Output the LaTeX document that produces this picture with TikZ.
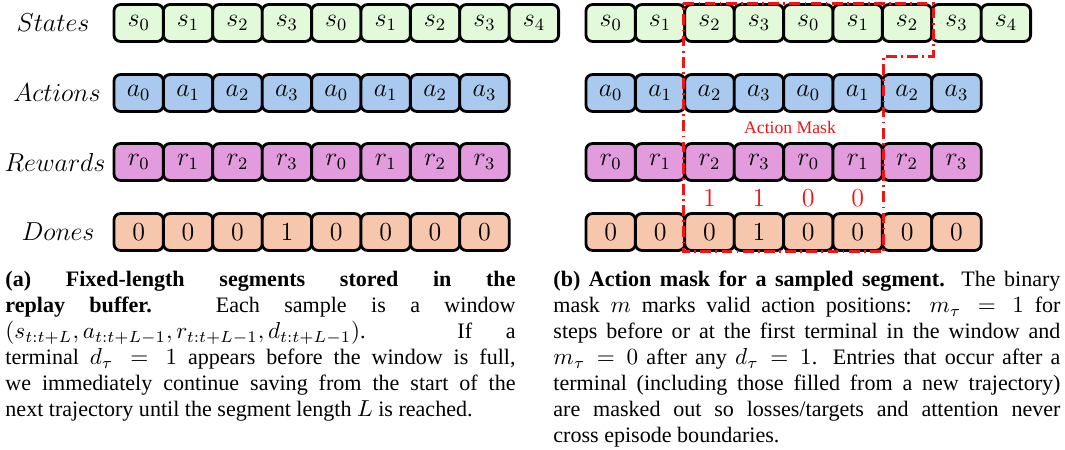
\documentclass[tikz,border=0pt]{standalone}
\usepackage{fix-cm}
\usepackage[no-math]{fontspec}
\setmainfont{Liberation Serif}[Scale=1.02, WordSpace={1,1.2,0.72}]
\DeclareMathSizes{10}{10.7}{7.5}{5.4}
\hyphenpenalty=10000
\tolerance=3000

\definecolor{stategreen}{RGB}{226,250,217}
\definecolor{actionblue}{RGB}{169,201,238}
\definecolor{rewardpink}{RGB}{226,155,220}
\definecolor{donepeach}{RGB}{246,199,172}
\definecolor{maskred}{RGB}{240,20,20}

\tikzset{
  cell/.style={draw, line width=1.3pt, rounded corners=3pt, inner sep=0pt,
    minimum width=0.803cm, minimum height=0.6cm, font=\large},
  rowlabel/.style={font=\large, inner sep=0pt},
  maskline/.style={draw=maskred, line width=1.4pt,
    dash pattern=on 5pt off 2pt on 0.8pt off 2pt},
  caption/.style={anchor=north west, inner sep=0pt, align=justify,
    font=\normalsize},
}

\begin{document}
\begin{tikzpicture}[x=0.01625cm, y=-0.01625cm]
  \useasboundingbox (0,0) rectangle (1065,450);

  % left panel: stored segments
  \node[rowlabel] (lsa) at (53,23) {$States$};
  \node[rowlabel] (laa) at (57,93) {$Actions$};
  \node[rowlabel] (lra) at (55,162) {$Rewards$};
  \node[rowlabel] (lda) at (58,232) {$Dones$};
  \foreach \v [count=\i from 0] in {s_0,s_1,s_2,s_3,s_0,s_1,s_2,s_3,s_4}
    \node[cell, fill=stategreen] (sa\i) at (138.7+49.4*\i,23) {$\v$};
  \foreach \v [count=\i from 0] in {a_0,a_1,a_2,a_3,a_0,a_1,a_2,a_3}
    \node[cell, fill=actionblue] (aa\i) at (138.7+49.4*\i,93) {$\v$};
  \foreach \v [count=\i from 0] in {r_0,r_1,r_2,r_3,r_0,r_1,r_2,r_3}
    \node[cell, fill=rewardpink] (ra\i) at (138.7+49.4*\i,162) {$\v$};
  \foreach \v [count=\i from 0] in {0,0,0,1,0,0,0,0}
    \node[cell, fill=donepeach] (da\i) at (138.7+49.4*\i,232) {$\v$};

  % right panel: sampled window
  \foreach \v [count=\i from 0] in {s_0,s_1,s_2,s_3,s_0,s_1,s_2,s_3,s_4}
    \node[cell, fill=stategreen] (sb\i) at (610.7+49.4*\i,23) {$\v$};
  \foreach \v [count=\i from 0] in {a_0,a_1,a_2,a_3,a_0,a_1,a_2,a_3}
    \node[cell, fill=actionblue] (ab\i) at (610.7+49.4*\i,93) {$\v$};
  \foreach \v [count=\i from 0] in {r_0,r_1,r_2,r_3,r_0,r_1,r_2,r_3}
    \node[cell, fill=rewardpink] (rb\i) at (610.7+49.4*\i,162) {$\v$};
  \foreach \v [count=\i from 0] in {0,0,0,1,0,0,0,0}
    \node[cell, fill=donepeach] (db\i) at (610.7+49.4*\i,232) {$\v$};

  \draw[maskline] (sb2.north west) -- (sb6.north east) -- ++(0,53)
    -| (db5.south east) -- (db2.south west) -- cycle;
  \node[text=maskred, font=\footnotesize] (mlab) at (790,127) {Action Mask};
  \foreach \m [count=\i from 2] in {1,1,0,0}
    \node[text=maskred, font=\large] (m\i) at (db\i.center |- 0,198) {$\m$};

  % captions
  \node[caption, text width=8.29cm] (capa) at (5,271)
    {\textbf{(a) Fixed-length segments stored in the replay buffer.} Each
     sample is a window $(s_{t:t+L}, a_{t:t+L-1}, r_{t:t+L-1}, d_{t:t+L-1})$.
     If a\linebreak terminal $d_\tau = 1$ appears before the window is
     full,\linebreak we immediately continue saving from the start of
     the\linebreak next trajectory until the segment length $L$ is reached.};
  \node[caption, text width=8.24cm] (capb) at (553,271)
    {\textbf{(b) Action mask for a sampled segment.} The binary mask $m$
     marks valid action positions: $m_\tau = 1$ for\linebreak steps before or
     at the first terminal in the window and\linebreak $m_\tau = 0$ after any
     $d_\tau = 1$. Entries that occur after a\linebreak terminal (including
     those filled from a new trajectory)\linebreak are masked out so
     losses/targets and attention never\linebreak cross episode boundaries.};
\end{tikzpicture}
\end{document}
